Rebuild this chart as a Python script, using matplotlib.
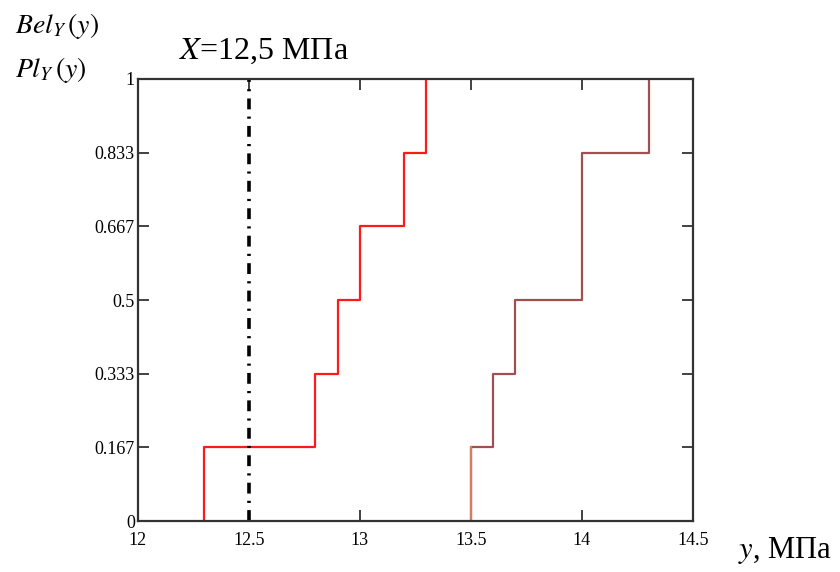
import numpy as np
import matplotlib
matplotlib.use("Agg")
import matplotlib.pyplot as plt

plt.rcParams["font.family"] = ["Liberation Serif", "DejaVu Serif"]
plt.rcParams["mathtext.fontset"] = "stix"

# Datos: puntos de salto de las funciones Bel y Pl
y_pl = [12.3, 12.8, 12.9, 13.0, 13.2, 13.3]
y_bel = [13.5, 13.6, 13.7, 14.0, 14.0, 14.3]
niveles = [0, 1/6, 2/6, 3/6, 4/6, 5/6, 1]
x_ref = 12.5
x_ticks = [12, 12.5, 13, 13.5, 14, 14.5]
y_ticks = [0, 0.167, 0.333, 0.5, 0.667, 0.833, 1]
y_tick_labels = ["0", "0.167", "0.333", "0.5", "0.667", "0.833", "1"]


def escalones(saltos):
    # Devuelve x, y de una funcion escalonada que sube 1/6 en cada salto
    xs, ys = [saltos[0]], [0.0]
    for i, s in enumerate(saltos):
        xs += [s, s]
        ys += [niveles[i], niveles[i + 1]]
    return xs[1:], ys[1:]


fig = plt.figure(figsize=(8.4, 5.72), dpi=100)
ax = fig.add_axes([0.164, 0.089, 0.661, 0.773])

x1, y1 = escalones(y_pl)
x2, y2 = escalones(y_bel)
ax.plot(x1, y1, color="#FF1A1A", lw=1.6)
ax.plot(x2, y2, color="#A05050", lw=1.6)
ax.plot(x2[:2], y2[:2], color="#D08060", lw=1.6)
ax.plot([x_ref, x_ref], [0, 1], color="black", lw=2.6,
        dashes=(3.0, 2.0, 0.6, 2.0))

ax.set_xlim(12, 14.5)
ax.set_ylim(0, 1)
ax.set_xticks(x_ticks)
ax.set_xticklabels([f"{v:g}" for v in x_ticks])
ax.set_yticks(y_ticks)
ax.set_yticklabels(y_tick_labels)
ax.tick_params(direction="in", length=8, width=1.3, labelsize=13,
               top=True, right=True, color="#333333")
ax.tick_params(axis="x", pad=8)
ax.tick_params(axis="y", pad=2)
for sp in ax.spines.values():
    sp.set_linewidth(1.6)
    sp.set_color("#333333")

fig.text(0.213, 0.897, r"$X$=12,5 МПа", fontsize=23)
fig.text(0.018, 0.942, r"$Bel_Y\,(y)$", fontsize=20)
fig.text(0.018, 0.865, r"$Pl_Y\,(y)$", fontsize=20)
fig.text(0.878, 0.025, r"$y$, МПа", fontsize=22)

fig.savefig("out.png", dpi=100)
